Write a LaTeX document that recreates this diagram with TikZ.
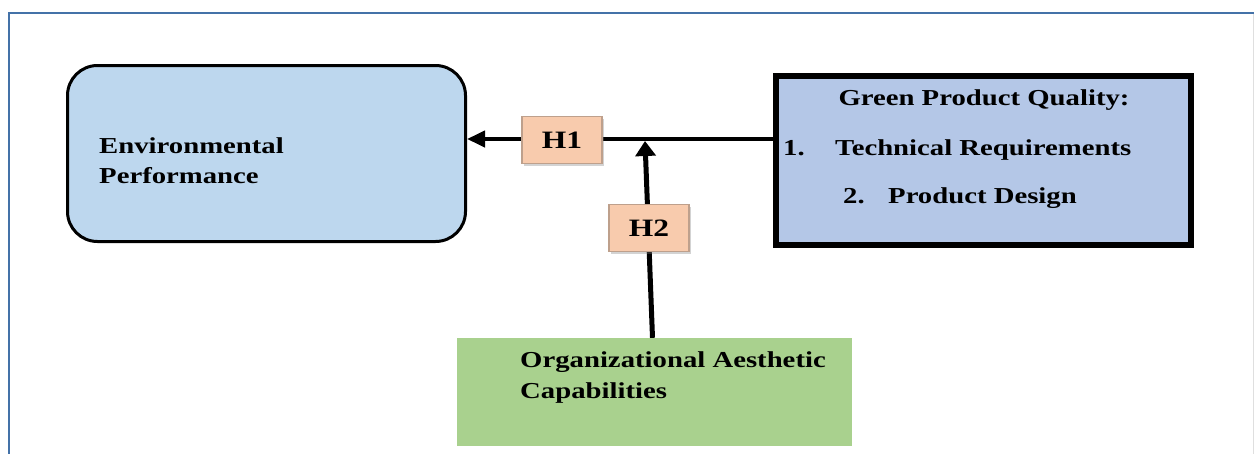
\documentclass[tikz,border=0pt]{standalone}
\usepackage{fontspec}
\setmainfont{Liberation Serif}[FakeStretch=1.26]
\usetikzlibrary{arrows.meta,shadows}
\definecolor{frameblue}{RGB}{68,114,168}
\definecolor{envfill}{RGB}{189,215,238}
\definecolor{gpqfill}{RGB}{180,199,231}
\definecolor{oacfill}{RGB}{169,209,142}
\definecolor{hfill}{RGB}{248,203,173}
\definecolor{hdraw}{RGB}{190,160,140}
\tikzset{
  txt/.style={font=\bfseries\fontsize{22.8}{26}\selectfont, inner sep=0pt, anchor=base west},
  hbox/.style={fill=hfill, draw=hdraw, line width=1.2pt, minimum width=80pt, minimum height=47pt, inner sep=0pt,
    font=\bfseries\fontsize{25}{28}\selectfont,
    drop shadow={shadow xshift=2pt, shadow yshift=-2pt, opacity=0.35, fill=gray}},
  conn/.style={line width=4pt, -{Triangle[length=18pt,width=16pt]}},
  connv/.style={line width=5pt, -{Triangle[length=15pt,width=20pt]}}
}
\begin{document}
\begin{tikzpicture}[x=1pt,y=-1pt]
\useasboundingbox (0,0) rectangle (1254,453);
% frame
\draw[frameblue, line width=2pt] (9,455) -- (9,13) -- (1256,13);
\draw[gray!25, line width=1pt] (1253,14) -- (1253,455);
% boxes
\node[draw=black, line width=3pt, fill=envfill, rounded corners=30pt, minimum width=398pt, minimum height=176pt, inner sep=0pt] (env) at (266.5,153.5) {};
\node[draw=black, line width=6pt, fill=gpqfill, minimum width=415pt, minimum height=169pt, inner sep=0pt] (gpq) at (983.5,160.5) {};
\node[fill=oacfill, minimum width=395pt, minimum height=108pt, inner sep=0pt] (oac) at (654.5,392) {};
% texts
\node[txt] (t1) at (99,153) {Environmental};
\node[txt] (t2) at (99,183) {Performance};
\node[txt, anchor=base] (t3) at (984,105) {Green Product Quality:};
\node[txt] (t4) at (783,155) {1.};
\node[txt] (t5) at (835,155) {Technical Requirements};
\node[txt] (t6) at (843,203.5) {2.};
\node[txt] (t7) at (888,203.5) {Product Design};
\node[txt] (t8) at (520,367) {Organizational Aesthetic};
\node[txt] (t9) at (520,398) {Capabilities};
% connectors
\coordinate (j) at (645,141);
\coordinate (hy) at (0,139);
\draw[conn] (hy -| gpq.west) -- (hy -| env.east);
\draw[connv] ([xshift=-2pt]oac.north) -- (j);
% hypothesis labels
\node[hbox] (h1) at (562,140) {H1};
\node[hbox] (h2) at (649,228) {H2};
\end{tikzpicture}
\end{document}
